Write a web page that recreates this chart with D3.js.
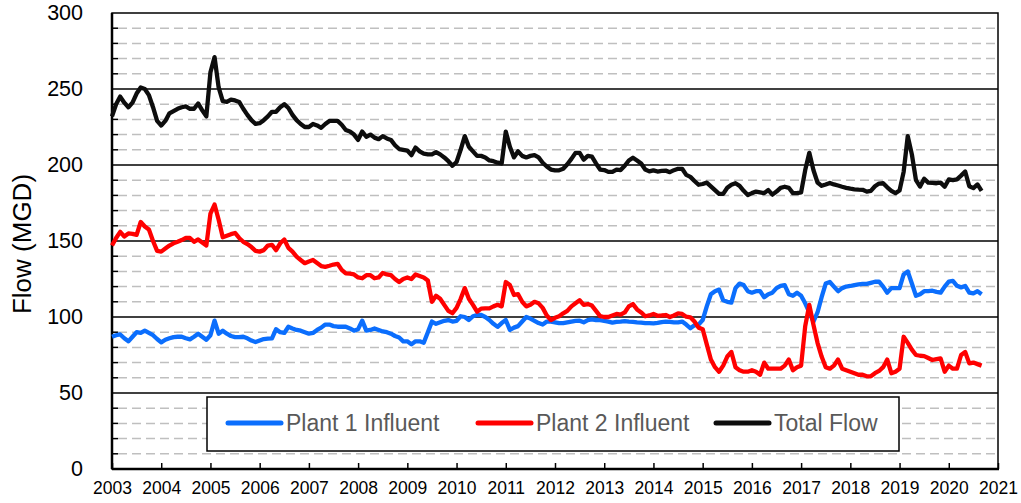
<!DOCTYPE html>
<html>
<head>
<meta charset="utf-8">
<script src="https://cdn.jsdelivr.net/npm/d3@7"></script>
<style>
  body { margin: 0; background: #fff; }
  svg text { font-family: Arial, "Liberation Sans", sans-serif; }
</style>
</head>
<body>
<svg id="chart" width="1021" height="503"></svg>
<script>
// monthly flows (MGD), Jan 2003 .. Sep 2020, one row per year
var plant1 = [
  87, 88, 88.5, 86, 84, 87, 90, 89.5, 91, 89.5, 88, 85.5,
  83.3, 85, 86, 86.8, 87, 87, 86, 85.3, 87, 89, 87, 85,
  88, 97.6, 89, 91, 89, 87.5, 86.8, 86.7, 87, 86, 84.5, 83.5,
  84.5, 85.5, 85.8, 86, 92, 90, 89.5, 93.6, 92.5, 91.5, 91, 90,
  89, 89.5, 91.5, 93, 95, 95, 94, 93.6, 93.6, 93.6, 92.5, 91,
  92, 97.6, 91, 91.5, 92.5, 91.5, 90.5, 90, 89, 87.5, 86.5, 84,
  84, 82, 84, 84, 83, 90, 97, 95.5, 96.5, 97.5, 98, 97,
  97.5, 100.5, 100, 98, 100.5, 101.3, 101.3, 100, 98, 95.5, 93.5, 96,
  98, 91.5, 93, 94, 97, 100, 99, 97.5, 96, 95, 97, 97,
  96.5, 96, 96, 96.5, 97, 97.5, 97.6, 96.5, 98, 98.5, 98, 98,
  97.5, 97, 96.3, 96.8, 97, 97.3, 97, 96.8, 96.5, 96.3, 96, 96,
  95.8, 96.2, 96.7, 97, 96.8, 96.5, 96.5, 97, 95, 92.6, 94.5, 95,
  98, 107, 115, 117, 118, 111, 110, 109.5, 119, 122, 121, 117,
  116, 117, 117, 113, 115, 116, 119, 120.5, 121, 115, 114, 116,
  114, 109, 103, 97, 103, 113, 122, 123, 120, 117, 119, 120,
  120.4, 121, 121.5, 121.8, 121.8, 122.5, 123.2, 123.2, 120, 116, 119, 119,
  119, 128, 130, 122, 114, 115, 117, 117, 117.3, 116.5, 116, 120,
  123.2, 123.7, 120.5, 119.5, 120.4, 116, 115.5, 117, 115
];
var plant2 = [
  147, 152, 156, 153, 155, 154.7, 154, 162.5, 159.5, 157.5, 150, 143.5,
  143, 145, 147, 148.5, 149.5, 150.6, 152, 152, 149.5, 151, 149, 147,
  168, 174, 164, 152.5, 153.5, 154.5, 155.3, 152, 149.5, 148, 146, 143.5,
  143, 144, 147, 147.5, 144, 148.5, 151, 145.5, 143, 139.7, 137.5, 135.4,
  136.5, 137.5, 135.5, 133.5, 133, 133.7, 134.5, 135, 131, 128.7, 128.5, 128,
  126, 125.5, 127.5, 127.5, 125.5, 126, 129, 128, 127.5, 125, 123, 125,
  126, 125, 128, 127, 126, 124, 110, 114, 112, 108, 104, 102.5,
  106, 112, 119, 112, 108, 103.5, 105.5, 105.7, 105.7, 107, 108, 107,
  123, 121, 114.5, 115, 110, 107, 108, 110, 109, 106, 101, 98,
  99.5, 100.5, 102.4, 104, 107, 109, 111, 108, 108.5, 107.5, 104, 100.6,
  100, 100, 101, 102, 101.5, 103, 107, 108.5, 105, 103, 100.5, 101,
  102, 100.8, 101, 101.3, 100, 101, 102.4, 102, 100.2, 99.8, 97, 93,
  92, 82, 72, 67, 64, 68, 74, 77, 67, 65, 64, 64,
  65, 64, 62, 70, 66, 66, 66, 66, 68, 72, 65, 67,
  68, 94, 108, 95, 83, 74, 67, 66, 68, 72, 66, 65,
  64, 63, 62, 62, 61, 61, 63, 64.5, 67, 72, 63, 64,
  66, 87, 83, 78.5, 75, 74.5, 74.3, 73, 71.7, 72.3, 72.8, 64,
  68, 66, 66, 75, 77, 69.5, 70, 69, 68
];
var totalFlow = [
  232, 240, 245, 241, 238, 241, 247, 251, 250, 246, 238, 229,
  226, 229, 234, 235.5, 237, 238, 238.5, 237, 237, 240.5, 236, 232,
  261, 271, 251, 242, 241.5, 243, 242.5, 241.5, 237, 233, 229.5, 227,
  227.5, 229.5, 232, 235, 235, 238, 240, 237.5, 233, 229.5, 227, 225,
  225, 227, 226, 224.5, 227, 229, 229, 229, 226.5, 223, 222, 220,
  216.5, 222, 218.6, 220, 218, 217, 219, 217.5, 216.5, 213, 210.5, 210,
  209.5, 206.5, 211.5, 209, 207.5, 207, 207, 208.5, 207, 205, 202.5, 199.5,
  202, 210, 219, 212, 209, 206, 206, 205, 203, 202.5, 201.5, 201,
  222, 212, 205, 209, 206, 205, 206, 206.5, 205, 201.5, 199, 197,
  196.5, 196.5, 197.5, 200.5, 204, 208, 208, 203.5, 206, 205.5, 201, 197,
  196.7, 195.5, 195.5, 197, 196.7, 199.5, 203, 204.8, 203, 201, 197, 195.8,
  196.5, 195.7, 196.1, 196.3, 195.3, 196.6, 197.5, 197.5, 193.5, 192.2, 189.5, 187,
  187.5, 188.4, 186, 183.5, 181, 181, 185, 187, 188, 186.3, 183, 180.3,
  181.5, 182.5, 182, 181.5, 183.5, 180.5, 182.5, 185, 185.7, 185, 181.5, 181.5,
  182, 196.7, 208, 196.7, 188.5, 186.3, 187.2, 188.2, 187.2, 186.5, 185.7, 185,
  184.4, 184, 183.8, 183.7, 182.5, 183, 186, 187.8, 188, 185.3, 183, 181.5,
  183.2, 195.5, 219, 207, 190, 185.8, 191, 188.4, 188.2, 188, 188.4, 185.7,
  190.5, 190, 190.5, 193, 195.7, 186, 184.8, 187.2, 183
];
var years = d3.range(2003, 2022);
var yTicks = [0, 50, 100, 150, 200, 250, 300];
var seriesNames = ["Plant 1 Influent", "Plant 2 Influent", "Total Flow"];
var seriesColors = ["#0B6EFD", "#FF0000", "#0D0D0D"];

var svg = d3.select("#chart");
var plotLeft = 112, plotRight = 998, plotTop = 13, plotBottom = 469;

var x = d3.scaleLinear().domain([2003, 2021]).range([plotLeft, plotRight]);
var y = d3.scaleLinear().domain([0, 300]).range([plotBottom, plotTop]);

// minor dashed grid every 10
var minor = d3.range(10, 300, 10).filter(function(v) { return v % 50 != 0; });
svg.append("g").selectAll("line").data(minor).enter().append("line")
    .attr("x1", plotLeft + 6).attr("x2", plotRight - 2)
    .attr("y1", function(d) { return y(d); }).attr("y2", function(d) { return y(d); })
    .attr("stroke", "#BFBFBF").attr("stroke-width", 1.5)
    .attr("stroke-dasharray", "9,5");

// small inner ticks on the y axis
svg.append("g").selectAll("line").data(minor).enter().append("line")
    .attr("x1", plotLeft).attr("x2", plotLeft + 6)
    .attr("y1", function(d) { return y(d); }).attr("y2", function(d) { return y(d); })
    .attr("stroke", "#000").attr("stroke-width", 1.5);

// major solid grid
svg.append("g").selectAll("line").data([50, 100, 150, 200, 250]).enter().append("line")
    .attr("x1", plotLeft).attr("x2", plotRight)
    .attr("y1", function(d) { return y(d); }).attr("y2", function(d) { return y(d); })
    .attr("stroke", "#000").attr("stroke-width", 1.5);

// plot frame
svg.append("rect")
    .attr("x", plotLeft).attr("y", plotTop)
    .attr("width", plotRight - plotLeft).attr("height", plotBottom - plotTop)
    .attr("fill", "none").attr("stroke", "#000").attr("stroke-width", 1.5);
svg.append("line").attr("x1", plotLeft).attr("x2", plotLeft).attr("y1", plotTop).attr("y2", plotBottom)
    .attr("stroke", "#000").attr("stroke-width", 2.5);
svg.append("line").attr("x1", plotLeft).attr("x2", plotRight + 1).attr("y1", plotBottom).attr("y2", plotBottom)
    .attr("stroke", "#000").attr("stroke-width", 2.5);

// x axis, ticks pointing inward
var xAxis = svg.append("g").attr("transform", "translate(0," + plotBottom + ")")
    .call(d3.axisBottom(x).tickValues(years).tickFormat(d3.format("d"))
        .tickSizeInner(-6).tickSizeOuter(0).tickPadding(13));
xAxis.select(".domain").remove();
xAxis.selectAll(".tick line").attr("stroke-width", 1.5);
xAxis.selectAll("text").attr("font-size", "17.5px").attr("fill", "#000")
    .attr("font-family", "Arial, 'Liberation Sans', sans-serif");

// y axis labels
var yAxis = svg.append("g").attr("transform", "translate(" + plotLeft + ",0)")
    .call(d3.axisLeft(y).tickValues(yTicks).tickSize(0).tickPadding(29));
yAxis.select(".domain").remove();
yAxis.selectAll("text").attr("font-size", "21.5px").attr("fill", "#000")
    .attr("font-family", "Arial, 'Liberation Sans', sans-serif");

svg.append("text")
    .attr("transform", "translate(31,244) rotate(-90)")
    .attr("text-anchor", "middle")
    .attr("font-size", "26px")
    .text("Flow (MGD)");

// lines
var line = d3.line()
    .x(function(d, i) { return x(2003 + i / 12); })
    .y(function(d) { return y(d); });

[plant1, plant2, totalFlow].forEach(function(vals, k) {
    svg.append("path")
        .attr("d", line(vals))
        .attr("fill", "none")
        .attr("stroke", seriesColors[k])
        .attr("stroke-width", 4.3)
        .attr("stroke-linejoin", "round");
});

// legend
var legend = svg.append("g");
legend.append("rect")
    .attr("x", 207).attr("y", 397).attr("width", 692).attr("height", 54)
    .attr("fill", "#fff").attr("stroke", "#000").attr("stroke-width", 1.5);
var legX = [228, 478, 716];
seriesNames.forEach(function(name, k) {
    legend.append("line")
        .attr("x1", legX[k]).attr("x2", legX[k] + 53)
        .attr("y1", 423).attr("y2", 423)
        .attr("stroke", seriesColors[k]).attr("stroke-width", 5)
        .attr("stroke-linecap", "round");
    legend.append("text")
        .attr("x", legX[k] + 58).attr("y", 431)
        .attr("font-size", "23px").attr("fill", "#595959")
        .text(name);
});
</script>
</body>
</html>
